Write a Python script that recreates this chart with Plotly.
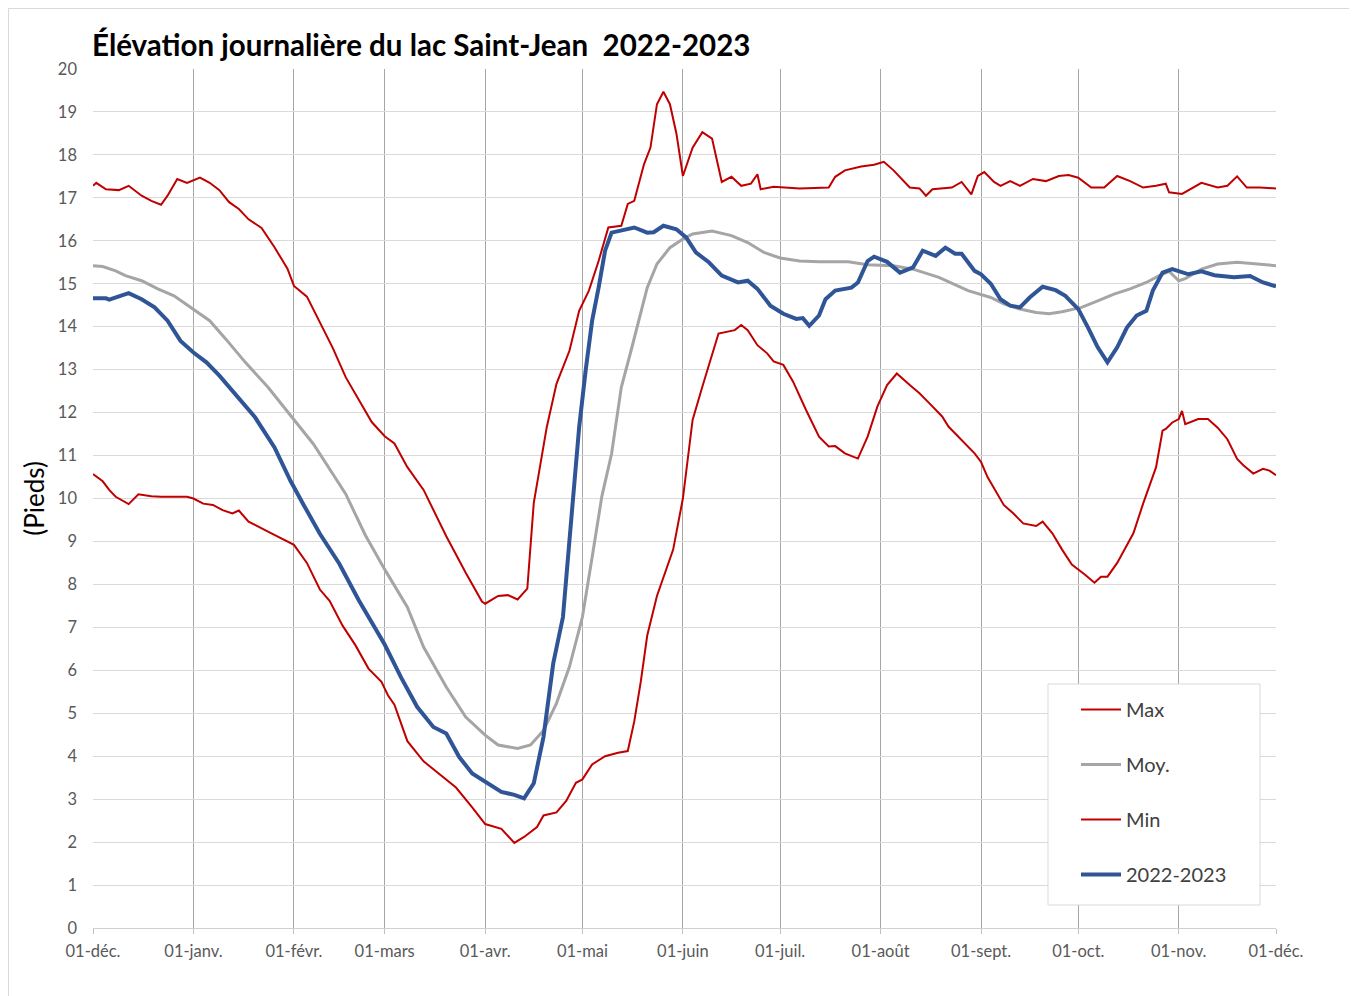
import pandas as pd
import plotly.graph_objects as go

BASE = pd.Timestamp("2022-12-01")

month_ticks = ["2022-12-01", "2023-01-01", "2023-02-01", "2023-03-01", "2023-04-01",
               "2023-05-01", "2023-06-01", "2023-07-01", "2023-08-01", "2023-09-01",
               "2023-10-01", "2023-11-01", "2023-12-01"]
month_labels = ["01-déc.", "01-janv.", "01-févr.", "01-mars", "01-avr.", "01-mai",
                "01-juin", "01-juil.", "01-août", "01-sept.", "01-oct.", "01-nov.", "01-déc."]

# Max (days since 2022-12-01, feet)
max_days = [0, 1, 4, 8, 11, 15, 18, 21, 23, 26, 29, 33, 36, 39, 42, 45, 48, 52, 56, 60, 62,
            66, 70, 74, 78, 82, 86, 90, 93, 97, 102, 109, 115, 120, 121, 125, 128, 131, 134,
            136, 140, 143, 147, 150, 153, 156, 159, 163, 165, 167, 170, 172, 174, 176, 178,
            180, 182, 185, 188, 191, 194, 197, 200, 203, 205, 206, 210, 218, 227, 229, 232,
            237, 241, 244, 247, 252, 255, 257, 259, 265, 268, 271, 273, 275, 278, 280, 283,
            286, 290, 294, 298, 301, 304, 308, 312, 316, 320, 324, 328, 331, 332, 336, 342,
            347, 350, 353, 356, 360, 365]
max_vals = [17.28, 17.35, 17.2, 17.18, 17.28, 17.05, 16.93, 16.84, 17.05, 17.44, 17.35, 17.47,
            17.35, 17.18, 16.9, 16.74, 16.5, 16.3, 15.85, 15.35, 14.95, 14.7, 14.1, 13.5, 12.82,
            12.3, 11.78, 11.45, 11.28, 10.73, 10.2, 9.12, 8.27, 7.6, 7.55, 7.73, 7.75, 7.65, 7.9,
            9.9, 11.66, 12.67, 13.44, 14.37, 14.84, 15.53, 16.31, 16.35, 16.86, 16.93, 17.78,
            18.17, 19.18, 19.47, 19.18, 18.5, 17.51, 18.17, 18.53, 18.38, 17.37, 17.49, 17.28,
            17.33, 17.55, 17.2, 17.26, 17.22, 17.24, 17.49, 17.64, 17.73, 17.77, 17.84, 17.64,
            17.24, 17.22, 17.05, 17.2, 17.24, 17.37, 17.08, 17.51, 17.6, 17.37, 17.28, 17.39,
            17.28, 17.44, 17.39, 17.51, 17.53, 17.47, 17.24, 17.24, 17.51, 17.39, 17.24, 17.28,
            17.33, 17.13, 17.09, 17.35, 17.24, 17.28, 17.5, 17.24, 17.24, 17.22]

# Moy.
moy_days = [0, 3, 7, 10, 15, 20, 25, 31, 36, 41, 47, 54, 62, 68, 74, 78, 84, 90, 97, 102, 109,
            115, 121, 125, 131, 135, 139, 143, 147, 151, 154, 157, 160, 163, 166, 169, 171, 174,
            178, 182, 185, 191, 197, 202, 207, 212, 218, 224, 233, 239, 247, 253, 261, 270, 277,
            281, 286, 291, 295, 299, 305, 310, 315, 320, 325, 329, 332, 335, 337, 342, 347, 353,
            359, 365]
moy_vals = [15.42, 15.4, 15.3, 15.19, 15.07, 14.88, 14.72, 14.41, 14.14, 13.71, 13.17, 12.59,
            11.85, 11.27, 10.57, 10.1, 9.15, 8.35, 7.47, 6.54, 5.61, 4.91, 4.49, 4.26, 4.18, 4.26,
            4.6, 5.23, 6.08, 7.24, 8.63, 10.05, 11.04, 12.59, 13.44, 14.3, 14.91, 15.46, 15.84,
            16.04, 16.16, 16.23, 16.12, 15.96, 15.73, 15.6, 15.53, 15.51, 15.51, 15.44, 15.42,
            15.34, 15.15, 14.84, 14.68, 14.53, 14.41, 14.33, 14.3, 14.35, 14.45, 14.6, 14.76,
            14.88, 15.03, 15.19, 15.29, 15.07, 15.12, 15.34, 15.46, 15.5, 15.46, 15.42]

# Min
min_days = [0, 2, 3, 5, 7, 11, 14, 18, 21, 29, 31, 34, 37, 40, 43, 45, 48, 54, 58, 62, 66, 70,
            73, 77, 81, 85, 89, 91, 93, 97, 102, 107, 112, 117, 121, 126, 130, 133, 137, 139,
            143, 146, 149, 151, 154, 158, 162, 165, 167, 169, 171, 174, 179, 182, 185, 188, 191,
            193, 198, 200, 202, 205, 208, 210, 213, 216, 220, 224, 227, 229, 232, 236, 239, 242,
            245, 248, 252, 255, 258, 262, 264, 268, 272, 274, 276, 281, 284, 287, 291, 293, 296,
            299, 302, 306, 309, 311, 313, 316, 318, 321, 324, 325, 328, 330, 331, 333, 335, 336,
            337, 341, 344, 347, 350, 353, 355, 358, 361, 363, 365]
min_vals = [10.57, 10.45, 10.4, 10.2, 10.04, 9.87, 10.1, 10.05, 10.04, 10.04, 10.0, 9.88, 9.85,
            9.73, 9.65, 9.72, 9.46, 9.23, 9.08, 8.92, 8.5, 7.88, 7.62, 7.04, 6.58, 6.04, 5.73,
            5.42, 5.2, 4.35, 3.88, 3.58, 3.27, 2.81, 2.42, 2.31, 1.98, 2.12, 2.35, 2.62, 2.69,
            2.96, 3.38, 3.46, 3.81, 4.0, 4.08, 4.12, 4.81, 5.73, 6.81, 7.73, 8.81, 10.0, 11.83,
            12.6, 13.38, 13.84, 13.92, 14.04, 13.92, 13.57, 13.38, 13.19, 13.11, 12.72, 12.06,
            11.44, 11.21, 11.22, 11.05, 10.93, 11.44, 12.14, 12.64, 12.91, 12.64, 12.45, 12.22,
            11.91, 11.67, 11.36, 11.05, 10.85, 10.5, 9.85, 9.65, 9.42, 9.36, 9.46, 9.19, 8.81,
            8.46, 8.23, 8.04, 8.18, 8.18, 8.5, 8.77, 9.19, 9.88, 10.1, 10.73, 11.58, 11.62, 11.77,
            11.85, 12.04, 11.73, 11.85, 11.85, 11.65, 11.38, 10.92, 10.77, 10.58, 10.69, 10.65,
            10.54]

# 2022-2023
cur_days = [0, 4, 5, 8, 11, 15, 19, 23, 27, 31, 35, 39, 44, 50, 56, 61, 65, 70, 76, 82, 90, 95,
            100, 105, 109, 113, 117, 121, 126, 130, 133, 136, 139, 142, 145, 147, 148, 150, 152,
            154, 156, 158, 160, 164, 167, 171, 173, 176, 180, 183, 186, 190, 194, 199, 202, 205,
            209, 213, 217, 219, 221, 224, 226, 229, 234, 236, 239, 241, 245, 249, 253, 256, 260,
            263, 266, 268, 272, 274, 277, 280, 283, 286, 289, 293, 297, 300, 304, 307, 310, 313,
            316, 319, 322, 325, 327, 330, 333, 338, 342, 346, 352, 357, 361, 365]
cur_vals = [14.66, 14.66, 14.63, 14.7, 14.78, 14.64, 14.45, 14.14, 13.67, 13.4, 13.17, 12.86,
            12.43, 11.89, 11.19, 10.4, 9.85, 9.18, 8.48, 7.63, 6.6, 5.84, 5.15, 4.68, 4.53, 3.98,
            3.6, 3.4, 3.17, 3.1, 3.02, 3.37, 4.45, 6.16, 7.24, 9.02, 10.0, 11.66, 12.98, 14.14,
            14.91, 15.77, 16.19, 16.25, 16.31, 16.19, 16.2, 16.35, 16.27, 16.08, 15.73, 15.5,
            15.19, 15.03, 15.07, 14.88, 14.49, 14.3, 14.18, 14.2, 14.02, 14.26, 14.64, 14.84,
            14.91, 15.03, 15.53, 15.63, 15.51, 15.26, 15.38, 15.77, 15.65, 15.84, 15.7, 15.7,
            15.3, 15.22, 15.0, 14.64, 14.49, 14.45, 14.68, 14.93, 14.85, 14.72, 14.41, 13.98,
            13.52, 13.17, 13.52, 13.98, 14.26, 14.37, 14.84, 15.26, 15.34, 15.22, 15.29, 15.2,
            15.15, 15.18, 15.03, 14.94]


def to_dates(days):
    return [BASE + pd.Timedelta(days=d) for d in days]


# Figure geometry (figure is placed at an 8px body offset on the page)
W, H = 1349, 988
ML, MR, MT, MB = 85, 81, 61, 68
PW, PH = W - ML - MR, H - MT - MB


def px(fx):  # figure x pixel -> plot paper x
    return (fx - ML) / PW


def py(fy):  # figure y pixel -> plot paper y
    return (H - MB - fy) / PH


FONT = "Lato"
fig = go.Figure()
series = [
    ("Max", max_days, max_vals, "#C00000", 2),
    ("Moy.", moy_days, moy_vals, "#A5A5A5", 3),
    ("Min", min_days, min_vals, "#C00000", 2),
    ("2022-2023", cur_days, cur_vals, "#2F5597", 4),
]
for i, (name, d, v, c, w) in enumerate(series):
    fig.add_trace(go.Scatter(x=to_dates(d), y=v, mode="lines", name=name,
                             legendgroup=f"g{i}",
                             line=dict(color=c, width=w, shape="linear")))

shapes = [
    # legend frame
    dict(type="rect", xref="paper", yref="paper", layer="above",
         x0=px(1040), x1=px(1252), y0=py(897), y1=py(676),
         line=dict(color="#D9D9D9", width=1), fillcolor="white"),
    # outer chart border (top and left edges)
    dict(type="line", xref="paper", yref="paper", x0=px(0.5), x1=px(W), y0=py(0.5), y1=py(0.5),
         line=dict(color="#D9D9D9", width=1)),
    dict(type="line", xref="paper", yref="paper", x0=px(0.5), x1=px(0.5), y0=py(0.5), y1=py(H),
         line=dict(color="#D9D9D9", width=1)),
]

fig.update_layout(
    width=W, height=H,
    margin=dict(l=ML, r=MR, t=MT, b=MB, autoexpand=False),
    paper_bgcolor="white", plot_bgcolor="white",
    font=dict(family=FONT, color="#595959", size=16),
    title=dict(text="<b>Élévation journalière du lac Saint-Jean  2022-2023</b>",
               x=84 / W, xanchor="left", y=1 - 38 / H, yanchor="middle",
               font=dict(family=FONT, size=29.5, color="#000000")),
    showlegend=True,
    legend=dict(x=px(1068), y=py(682), xanchor="left", yanchor="top",
                bgcolor="rgba(0,0,0,0)", borderwidth=0,
                font=dict(family=FONT, size=20, color="#404040"),
                tracegroupgap=26, itemwidth=40,
                traceorder="grouped"),
    shapes=shapes,
    xaxis=dict(type="date", range=[BASE, BASE + pd.Timedelta(days=365)],
               tickvals=month_ticks, ticktext=month_labels,
               showgrid=True, gridcolor="#A6A6A6", gridwidth=1,
               showline=True, linecolor="#D0D0D0", linewidth=1,
               ticks="outside", ticklen=5, tickcolor="#BFBFBF",
               ticklabelstandoff=3,
               tickfont=dict(family=FONT, size=16.5, color="#595959"),
               zeroline=False),
    yaxis=dict(range=[0, 20], dtick=1, tick0=0,
               showgrid=True, gridcolor="#D9D9D9", gridwidth=1,
               showline=False, zeroline=False, ticks="",
               ticklabelstandoff=15,
               tickfont=dict(family=FONT, size=16.5, color="#595959"),
               title=dict(text="(Pieds)", standoff=5,
                          font=dict(family=FONT, size=26, color="#000000"))),
)

fig.write_html("out.html")
